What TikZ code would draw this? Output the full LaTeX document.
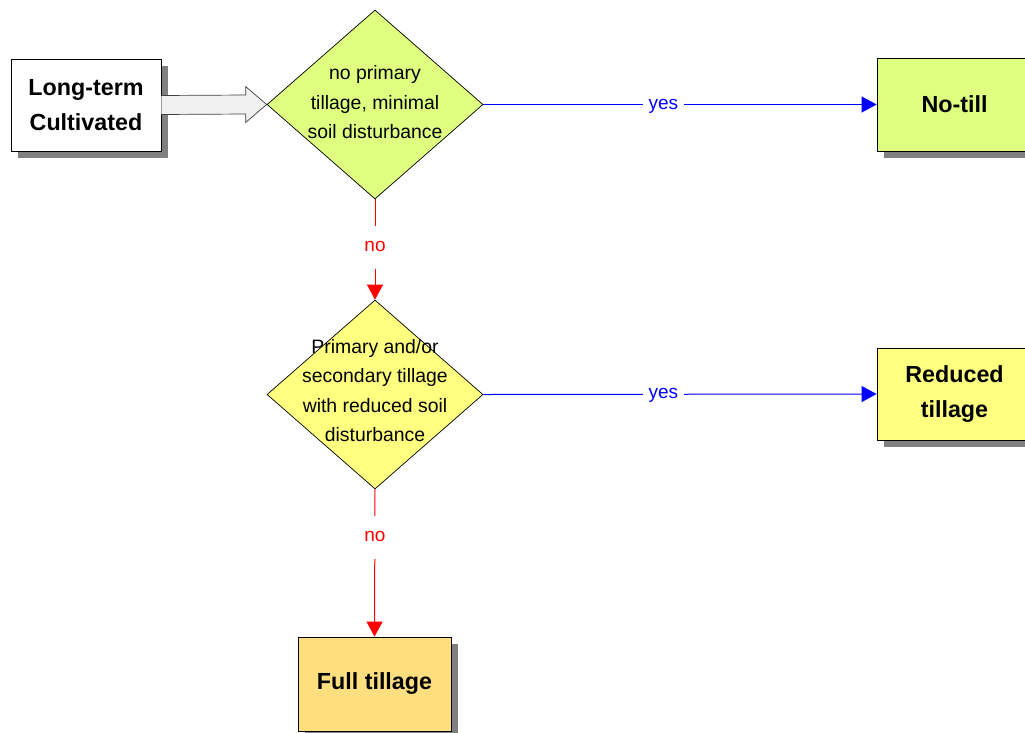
\documentclass[tikz,border=0pt]{standalone}
\usepackage{fontspec}
\setmainfont{Liberation Sans}
\usetikzlibrary{shapes.geometric,shadows,arrows.meta,calc}
\definecolor{limefill}{RGB}{222,255,128}
\definecolor{yellowfill}{RGB}{255,255,128}
\definecolor{orangefill}{RGB}{255,222,128}
\definecolor{shadowgray}{RGB}{128,128,128}
\begin{document}
\begin{tikzpicture}[x=1pt,y=-1pt,
  outcome/.style={draw=black, line width=0.8pt, align=center, inner sep=0pt,
    font=\fontsize{23.3}{35}\selectfont\bfseries,
    drop shadow={shadow xshift=7pt, shadow yshift=-7pt, fill=shadowgray, opacity=1}},
  decision/.style={shape=diamond, draw=black, line width=0.7pt, inner sep=0pt,
    minimum width=216pt, minimum height=189pt},
  question/.style={align=center, inner sep=0pt, font=\fontsize{19.4}{29.5}\selectfont},
  yesline/.style={draw=blue, line width=1pt, -{Triangle[length=15pt,width=16pt]}},
  noline/.style={draw=red, line width=1pt, -{Triangle[length=15pt,width=16pt]}},
  branchlabel/.style={fill=white, inner xsep=6pt, inner ysep=13pt,
    text height=13pt, text depth=4pt, font=\fontsize{19}{22}\selectfont},
  blockarrow/.style={fill=black!6, draw=black!75, line width=0.7pt, line join=miter}]
\clip (0,0) rectangle (1025,732);
\fill[white] (0,0) rectangle (1025,732);

% start box
\node[outcome, fill=white, minimum width=150pt, minimum height=92pt] (lt) at (86,105)
  {Long-term\\Cultivated};

% decisions
\node[decision, fill=limefill] (d1) at (375,104.5) {};
\node[question] (q1) at ($(d1.center)+(0,-2)$)
  {no primary\\tillage, minimal\\soil disturbance};
\node[decision, fill=yellowfill] (d2) at (375,394.5) {};
\node[question] (q2) at ($(d2.center)+(0,-4)$)
  {Primary and/or\\secondary tillage\\with reduced soil\\disturbance};

% outcomes
\node[outcome, fill=limefill, minimum width=155pt, minimum height=93pt] (notill) at (954.5,104.5)
  {No-till};
\node[outcome, fill=yellowfill, minimum width=155pt, minimum height=92pt] (reduced) at (954.5,394)
  {Reduced\\tillage};
\node[outcome, fill=orangefill, minimum width=153pt, minimum height=94pt] (full) at (374.5,684)
  {Full tillage};

% entry arrow into the first decision
\filldraw[blockarrow] ($(lt.east)+(0,-9.5)$) -- ($(d1.west)+(-21,-9.5)$)
  -- ($(d1.west)+(-21,-18)$) -- (d1.west) -- ($(d1.west)+(-21,18)$)
  -- ($(d1.west)+(-21,9.5)$) -- ($(lt.east)+(0,9.5)$);

% branches
\draw[yesline] (d1.east) -- node[branchlabel, text=blue, pos=0.458] (y1) {yes} (notill.west);
\draw[yesline] (d2.east) -- node[branchlabel, text=blue, pos=0.458] (y2) {yes} (reduced.west);
\draw[noline] (d1.south) -- node[branchlabel, text=red, pos=0.475] (n1) {no} (d2.north);
\draw[noline] (d2.south) -- node[branchlabel, text=red, pos=0.324] (n2) {no} (full.north);
\end{tikzpicture}
\end{document}
